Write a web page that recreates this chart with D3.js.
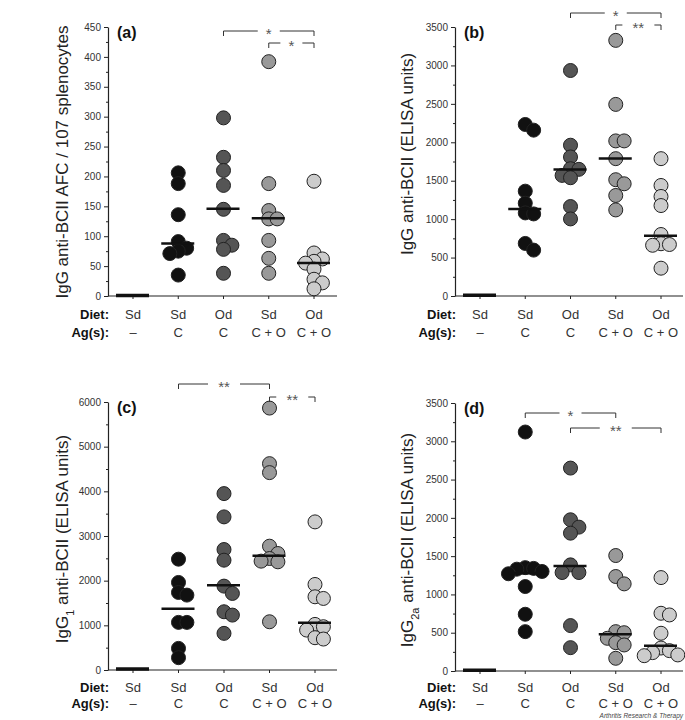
<!DOCTYPE html>
<html>
<head>
<meta charset="utf-8">
<script src="https://cdn.jsdelivr.net/npm/d3@7"></script>
<style>
  body { margin: 0; background: #fff; }
  text { font-family: "Liberation Sans", Arial, sans-serif; }
</style>
</head>
<body>
<script>
// Groups on the x axis: diet and antigen(s)
const diets = ["Sd", "Sd", "Od", "Sd", "Od"];
const ags = ["\u2013", "C", "C", "C + O", "C + O"];
const fills = ["#fff", "#111", "#555", "#999", "#ccc"];

// (a) IgG anti-BCII AFC / 10^7 splenocytes
const aValues = [
  [],
  [206, 188, 136, 91, 80, 75, 71, 35],
  [298, 232, 210, 185, 145, 93, 85, 78, 38],
  [392, 188, 143, 129, 129, 93, 63, 38],
  [192, 72, 62, 58, 55, 45, 28, 22, 12]
];
const aMedians = [1, 88, 146, 130, 55];
const aTicks = d3.range(0, 451, 50);
const aSig = [[2, 4, "*"], [3, 4, "*"]];

// (b) IgG anti-BCII (ELISA units)
const bValues = [
  [],
  [2232, 2158, 1364, 1207, 1081, 1068, 684, 597],
  [2934, 1962, 1809, 1656, 1648, 1569, 1539, 1164, 1003],
  [3326, 2493, 2018, 2018, 1787, 1513, 1460, 1308, 1120],
  [1787, 1438, 1295, 1177, 800, 680, 670, 660, 362]
];
const bMedians = [10, 1133, 1645, 1790, 785];
const bTicks = d3.range(0, 3501, 500);
const bSig = [[2, 4, "*"], [3, 4, "**"]];

// (c) IgG1 anti-BCII (ELISA units)
const cValues = [
  [],
  [2481, 1960, 1736, 1677, 1066, 1066, 484, 276],
  [3949, 3428, 2697, 2459, 1878, 1714, 1304, 1229, 820],
  [5864, 4620, 4419, 2772, 2608, 2496, 2437, 2422, 1080],
  [3316, 1915, 1639, 1602, 1021, 969, 894, 723, 693]
];
const cMedians = [20, 1370, 1900, 2560, 1060];
const cTicks = d3.range(0, 6001, 1000);
const cSig = [[1, 3, "**"], [3, 4, "**"]];

// (d) IgG2a anti-BCII (ELISA units)
const dValues = [
  [],
  [3121, 1350, 1340, 1330, 1300, 1270, 1103, 741, 514],
  [2650, 1975, 1879, 1800, 1386, 1286, 1286, 593, 305],
  [1508, 1234, 1138, 514, 500, 427, 370, 340, 166],
  [1220, 754, 732, 493, 300, 266, 240, 210, 200]
];
const dMedians = [10, 1275, 1370, 480, 330];
const dTicks = d3.range(0, 3501, 500);
const dSig = [[1, 3, "*"], [2, 4, "**"]];

const R = 7;

const svg = d3.select("body").append("svg")
  .attr("width", 685)
  .attr("height", 720)
  .style("background", "#fff");

// spread points of one group sideways so they don't pile up
function dodge(vals, y) {
  const step = R * 1.2, minD = R * 1.1;
  const cands = [0, step, -step, 2 * step, -2 * step];
  const placed = [];
  vals.map(v => y(v)).sort((a, b) => a - b).forEach(py => {
    let best = null, bestD = -1;
    for (const dx of cands) {
      const d = placed.length ? d3.min(placed, q => Math.hypot(q.dx - dx, q.y - py)) : Infinity;
      if (d >= minD) { best = dx; break; }
      if (d > bestD) { bestD = d; best = dx; }
    }
    placed.push({ dx: best, y: py });
  });
  return placed;
}

function drawPanel(p) {
  const g = svg.append("g");
  const y = d3.scaleLinear().domain([0, p.ticks[p.ticks.length - 1]]).range([p.yBot, p.yTop]);
  const x = d3.scalePoint().domain(d3.range(5)).range([p.x0, p.x1]);

  // y axis
  const minor = p.ticks.slice(1).map((t, i) => (t + p.ticks[i]) / 2);
  g.append("g")
    .attr("transform", `translate(${p.ax},0)`)
    .call(d3.axisLeft(y).tickValues(minor).tickSize(2).tickFormat(""))
    .call(a => a.select(".domain").remove())
    .selectAll("line").attr("stroke", "#222");
  const ya = g.append("g")
    .attr("transform", `translate(${p.ax},0)`)
    .call(d3.axisLeft(y).tickValues(p.ticks).tickFormat(d3.format("d"))
      .tickSize(4).tickPadding(3).tickSizeOuter(0));
  ya.select(".domain").attr("stroke", "#222").attr("stroke-width", 1.2);
  ya.selectAll("line").attr("stroke", "#222");
  ya.selectAll("text").attr("font-size", 10).attr("fill", "#333")
    .style("font-family", "'Liberation Sans', Arial, sans-serif");

  // x axis
  g.append("line")
    .attr("x1", p.ax).attr("x2", p.xEnd)
    .attr("y1", p.yBot).attr("y2", p.yBot)
    .attr("stroke", "#222").attr("stroke-width", 1.2);
  g.selectAll("line.xt").data(d3.range(5)).enter().append("line")
    .attr("x1", d => x(d)).attr("x2", d => x(d))
    .attr("y1", p.yBot).attr("y2", p.yBot + 3)
    .attr("stroke", "#222");

  // group labels
  g.append("text").attr("x", p.ax + 1).attr("y", p.rowY).attr("text-anchor", "end")
    .attr("font-size", 13).attr("font-weight", "bold").attr("fill", "#111").text("Diet:");
  g.append("text").attr("x", p.ax + 1).attr("y", p.rowY + p.rowGap).attr("text-anchor", "end")
    .attr("font-size", 13).attr("font-weight", "bold").attr("fill", "#111").text("Ag(s):");
  g.selectAll("text.diet").data(diets).enter().append("text")
    .attr("x", (d, i) => x(i)).attr("y", p.rowY).attr("text-anchor", "middle")
    .attr("font-size", 13).attr("fill", "#333").text(d => d);
  g.selectAll("text.ag").data(ags).enter().append("text")
    .attr("x", (d, i) => x(i)).attr("y", p.rowY + p.rowGap).attr("text-anchor", "middle")
    .attr("font-size", 13).attr("fill", "#333").text(d => d);

  // points
  p.values.forEach((vals, i) => {
    g.selectAll(null).data(dodge(vals, y)).enter().append("circle")
      .attr("cx", d => x(i) + d.dx)
      .attr("cy", d => d.y)
      .attr("r", R)
      .attr("fill", fills[i])
      .attr("stroke", "#222")
      .attr("stroke-width", 1);
  });

  // medians
  g.selectAll("line.med").data(p.medians).enter().append("line")
    .attr("x1", (d, i) => x(i) - 17).attr("x2", (d, i) => x(i) + 16)
    .attr("y1", d => y(d)).attr("y2", d => y(d))
    .attr("stroke", "#111")
    .attr("stroke-width", (d, i) => i === 0 ? 3.5 : 2.5);

  // significance brackets
  p.sig.forEach((s, k) => {
    const by = p.sigY[k], xa = x(s[0]), xb = x(s[1]), xm = (xa + xb) / 2;
    const gap = s[2].length * 5 + 6;
    g.append("path")
      .attr("d", `M${xa},${by + 5}V${by}H${xm - gap}M${xm + gap},${by}H${xb}V${by + 5}`)
      .attr("fill", "none").attr("stroke", "#333").attr("stroke-width", 1);
    g.append("text").attr("x", xm).attr("y", by + 8).attr("text-anchor", "middle")
      .attr("font-size", 15).attr("fill", "#555").text(s[2]);
  });

  // panel letter
  g.append("text").attr("x", p.ax + 9).attr("y", p.yTop + 11)
    .attr("font-size", 16).attr("font-weight", "bold").attr("fill", "#111").text(p.label);

  // y title
  const t = g.append("text")
    .attr("transform", `translate(${p.titleX},${p.titleY}) rotate(-90)`)
    .attr("text-anchor", "middle")
    .attr("font-size", 17).attr("fill", "#222");
  p.title.forEach(part => {
    const ts = t.append("tspan").text(part[0]);
    if (part[1] === "sub") ts.attr("font-size", 11).attr("baseline-shift", "sub");
  });
}

drawPanel({
  label: "(a)", values: aValues, medians: aMedians, ticks: aTicks, sig: aSig, sigY: [31, 43],
  ax: 108, x0: 133, x1: 314, xEnd: 337, yTop: 27, yBot: 296, rowY: 319, rowGap: 18,
  titleX: 68, titleY: 162, title: [["IgG anti-BCII AFC / 107 splenocytes"]]
});
drawPanel({
  label: "(b)", values: bValues, medians: bMedians, ticks: bTicks, sig: bSig, sigY: [13, 25],
  ax: 455, x0: 480, x1: 661, xEnd: 683, yTop: 27, yBot: 296, rowY: 319, rowGap: 18,
  titleX: 413, titleY: 154, title: [["IgG anti-BCII (ELISA units)"]]
});
drawPanel({
  label: "(c)", values: cValues, medians: cMedians, ticks: cTicks, sig: cSig, sigY: [384, 397],
  ax: 108, x0: 133, x1: 315, xEnd: 337, yTop: 402, yBot: 670, rowY: 692, rowGap: 16,
  titleX: 68, titleY: 539, title: [["IgG"], ["1", "sub"], [" anti-BCII (ELISA units)"]]
});
drawPanel({
  label: "(d)", values: dValues, medians: dMedians, ticks: dTicks, sig: dSig, sigY: [413, 428],
  ax: 455, x0: 480, x1: 661, xEnd: 683, yTop: 403, yBot: 671, rowY: 692, rowGap: 16,
  titleX: 413, titleY: 540, title: [["IgG"], ["2a", "sub"], [" anti-BCII (ELISA units)"]]
});

svg.append("text").attr("x", 683).attr("y", 718).attr("text-anchor", "end")
  .attr("font-size", 6.5).attr("font-style", "italic").attr("fill", "#444")
  .text("Arthritis Research & Therapy");
</script>
</body>
</html>
